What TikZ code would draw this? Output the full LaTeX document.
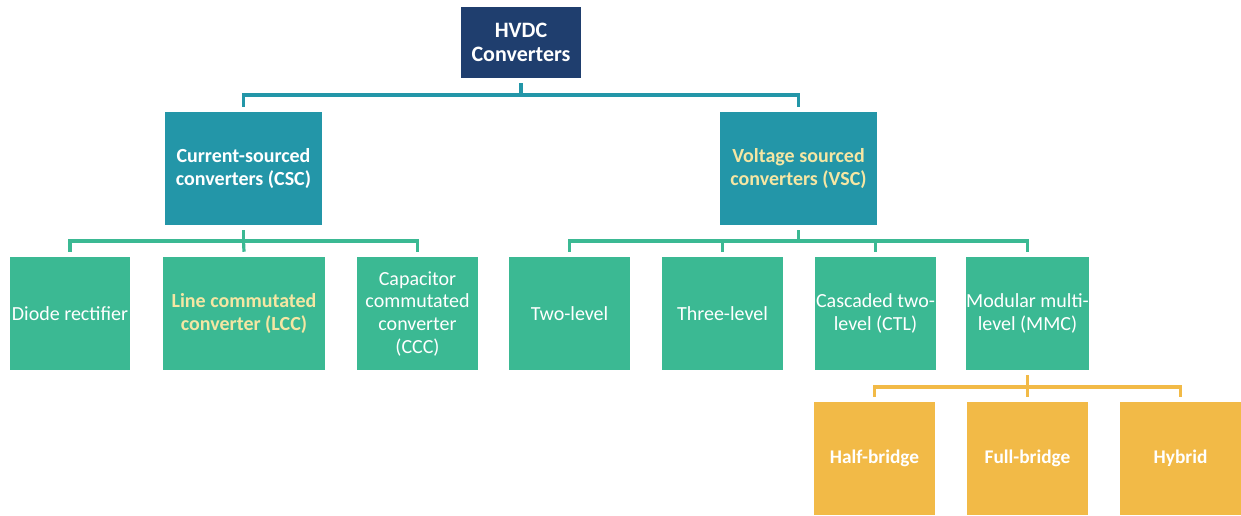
\documentclass[tikz,border=0pt]{standalone}
\usepackage{fontspec}
\setmainfont{Carlito}
\begin{document}
\begin{tikzpicture}[x=0.75pt,y=-0.75pt,
  base/.style={rectangle,inner sep=0pt,align=center,text=white,
    font=\fontsize{15}{17}\selectfont, minimum height=84.75pt},
  navybox/.style={base,fill=navy,font=\bfseries\fontsize{16.5}{18}\selectfont,minimum height=53.25pt,minimum width=90pt},
  tealbox/.style={base,fill=teal1,font=\bfseries\fontsize{15}{17.5}\selectfont,minimum width=117.75pt},
  greenbox/.style={base,fill=green1},
  yellowbox/.style={base,fill=yellow1,font=\bfseries\fontsize{14.5}{17}\selectfont},
  conn/.style={line width=2.4pt,line join=miter},
]
\definecolor{navy}{HTML}{1F3E6E}
\definecolor{teal1}{HTML}{2396A8}
\definecolor{green1}{HTML}{3BB993}
\definecolor{yellow1}{HTML}{F2BA47}
\definecolor{paleyel}{HTML}{F5E6A3}
\useasboundingbox (0,0) rectangle (1241,515);

\node[navybox] (hvdc) at (521,42.5) {HVDC\\Converters};
\node[tealbox] (csc) at (243.5,168.5) {Current-sourced\\converters (CSC)};
\node[tealbox,text=paleyel] (vsc) at (798.5,168.5) {Voltage sourced\\converters (VSC)};

\node[greenbox,minimum width=90pt] (diode) at (70,313.5) {Diode rectifier};
\node[greenbox,minimum width=121.5pt,text=paleyel,font=\bfseries\fontsize{15}{17.5}\selectfont] (lcc) at (244,313.5) {Line commutated\\converter (LCC)};
\node[greenbox,minimum width=90.75pt] (ccc) at (417.5,313.5) {Capacitor\\commutated\\converter\\(CCC)};

\node[greenbox,minimum width=90.75pt] (two) at (569.5,313.5) {Two-level};
\node[greenbox,minimum width=90.75pt] (three) at (722.5,313.5) {Three-level};
\node[greenbox,minimum width=90.75pt] (ctl) at (875.5,313.5) {Cascaded two-\\level (CTL)};
\node[greenbox,minimum width=90.75pt] (mmc) at (1027.5,313.5) {Modular multi-\\level (MMC)};

\node[yellowbox,minimum width=90.75pt] (half) at (874.5,458.5) {Half-bridge};
\node[yellowbox,minimum width=90.75pt] (full) at (1027.5,458.5) {Full-bridge};
\node[yellowbox,minimum width=90.75pt] (hybrid) at (1180.5,458.5) {Hybrid};

\coordinate (b1) at (521,95);
\coordinate (b2) at (243.5,241);
\coordinate (b3) at (798.5,241);
\coordinate (b4) at (1027.5,387);

% level 1
\draw[conn,teal1] ([yshift=-3.75pt]hvdc.south) -- (hvdc.south |- b1);
\draw[conn,teal1] ([yshift=3.75pt]csc.north) |- (b1) -| ([yshift=3.75pt]vsc.north);

% level 2 (CSC)
\draw[conn,green1] ([yshift=-3.75pt]csc.south) -- (b2);
\draw[conn,green1] ([yshift=3.75pt]diode.north) |- (b2) -| ([yshift=3.75pt]ccc.north);
\draw[conn,green1] (b2) -- ([yshift=3.75pt]lcc.north);

% level 2 (VSC)
\draw[conn,green1] ([yshift=-3.75pt]vsc.south) -- (b3);
\draw[conn,green1] ([yshift=3.75pt]two.north) |- (b3) -| ([yshift=3.75pt]mmc.north);
\draw[conn,green1] ([yshift=3.75pt]three.north) -- (three.north |- b3);
\draw[conn,green1] ([yshift=3.75pt]ctl.north) -- (ctl.north |- b3);

% level 3 (MMC)
\draw[conn,yellow1] ([yshift=-3.75pt]mmc.south) -- ([yshift=3.75pt]full.north);
\draw[conn,yellow1] ([yshift=3.75pt]half.north) |- (b4) -| ([yshift=3.75pt]hybrid.north);
\end{tikzpicture}
\end{document}
